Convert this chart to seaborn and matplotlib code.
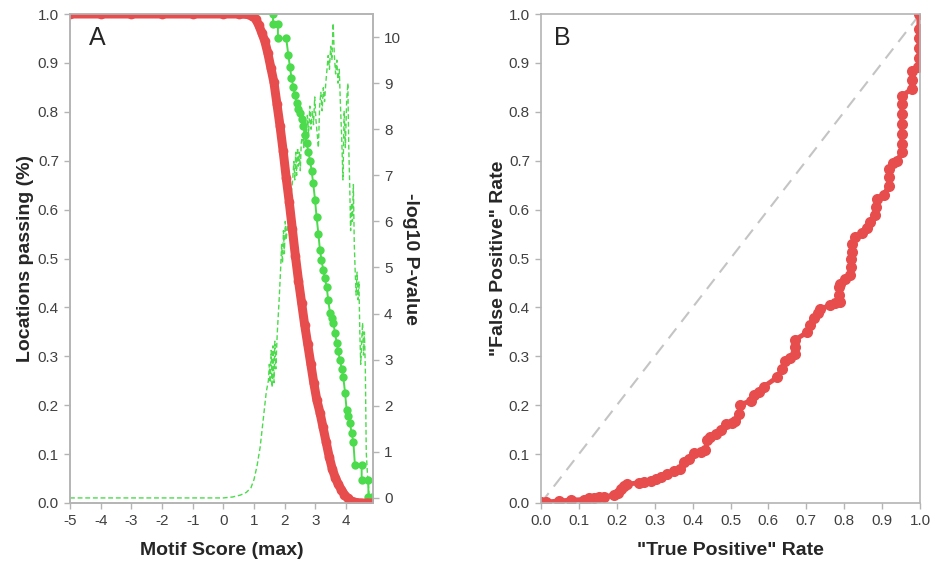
import matplotlib
matplotlib.use("Agg")
import matplotlib.pyplot as plt
import seaborn as sns
import numpy as np

sns.set_style("white")
plt.rcParams['font.family'] = ['Liberation Sans', 'DejaVu Sans']

# ---------------- Panel A data ----------------
# Locations passing (red)
score_red = [-5.0, -4.0, -3.0, -2.0, -1.0, 0.0, 0.5, 0.8, 0.95, 1.05, 1.15, 1.25, 1.35, 1.45, 1.55,
             1.65, 1.75, 1.85, 1.95, 2.05, 2.15, 2.25, 2.35, 2.45, 2.55, 2.65, 2.75, 2.85, 2.95, 3.05,
             3.15, 3.25, 3.35, 3.45, 3.55, 3.65, 3.75, 3.85, 3.95, 4.05, 4.15, 4.25, 4.35, 4.5, 4.7, 4.87]
passing_red = [1.0, 1.0, 1.0, 1.0, 1.0, 1.0, 1.0, 0.999, 0.996, 0.99, 0.978, 0.962, 0.945, 0.92, 0.89,
               0.86, 0.815, 0.77, 0.72, 0.665, 0.615, 0.56, 0.505, 0.455, 0.41, 0.365, 0.325, 0.285, 0.245, 0.21,
               0.185, 0.155, 0.125, 0.095, 0.07, 0.052, 0.038, 0.027, 0.017, 0.01, 0.005, 0.002, 0.001, 0.0, 0.0, 0.0]

# Locations passing (green, solid with markers)
score_green = [-5.0, 1.62, 1.62, 1.78, 1.78, 2.05, 2.12, 2.17, 2.22, 2.28, 2.33, 2.39, 2.45, 2.5, 2.55,
               2.61, 2.66, 2.72, 2.77, 2.83, 2.88, 2.93, 2.99, 3.04, 3.1, 3.15, 3.2, 3.26, 3.31, 3.37,
               3.42, 3.48, 3.53, 3.59, 3.64, 3.7, 3.75, 3.8, 3.86, 3.91, 3.97, 4.02, 4.08, 4.13, 4.18,
               4.24, 4.29, 4.51, 4.51, 4.73, 4.73, 4.84]
passing_green = [1.0, 1.0, 0.98, 0.98, 0.95, 0.95, 0.916, 0.892, 0.87, 0.851, 0.835, 0.818, 0.806, 0.797, 0.785,
                 0.77, 0.752, 0.736, 0.718, 0.70, 0.678, 0.654, 0.62, 0.585, 0.55, 0.517, 0.497, 0.476, 0.46, 0.442,
                 0.415, 0.388, 0.378, 0.368, 0.347, 0.327, 0.31, 0.292, 0.275, 0.258, 0.225, 0.19, 0.177, 0.164, 0.143,
                 0.125, 0.078, 0.078, 0.047, 0.047, 0.013, 0.013]

# -log10 P-value (green dashed, right axis)
score_p = [-5.0, 0.0, 0.3, 0.55, 0.75, 0.9, 1.0, 1.1, 1.2, 1.3, 1.4, 1.47, 1.5, 1.53, 1.56, 1.59, 1.62,
           1.65, 1.68, 1.71, 1.76, 1.82, 1.87, 1.9, 1.93, 1.96, 1.99, 2.02, 2.05, 2.09, 2.14, 2.2, 2.26,
           2.3, 2.33, 2.36, 2.39, 2.42, 2.45, 2.48, 2.51, 2.54, 2.58, 2.62, 2.66, 2.7, 2.74, 2.78, 2.82,
           2.86, 2.9, 2.94, 2.98, 3.02, 3.06, 3.1, 3.14, 3.18, 3.22, 3.26, 3.3, 3.34, 3.38, 3.42, 3.46,
           3.5, 3.54, 3.58, 3.62, 3.66, 3.7, 3.74, 3.78, 3.82, 3.86, 3.9, 3.94, 3.98, 4.02, 4.06, 4.09,
           4.12, 4.15, 4.18, 4.21, 4.24, 4.27, 4.3, 4.33, 4.36, 4.39, 4.42, 4.45, 4.48, 4.51, 4.54, 4.57,
           4.6, 4.63, 4.66, 4.7, 4.76, 4.87]
neglog_p = [0.0, 0.0, 0.02, 0.06, 0.12, 0.22, 0.4, 0.7, 1.1, 1.7, 2.3, 2.55, 2.9, 2.5, 3.2, 2.4, 3.3,
            2.5, 3.4, 2.8, 3.6, 4.3, 5.0, 5.5, 5.1, 5.8, 5.3, 6.0, 5.6, 5.9, 6.2, 6.5, 6.9,
            7.3, 6.9, 7.5, 7.0, 7.6, 7.2, 7.5, 7.1, 7.7, 7.9, 7.6, 8.2, 7.8, 8.3, 7.9, 8.5,
            8.0, 8.4, 8.1, 8.7, 8.2, 7.9, 7.6, 8.5, 8.8, 8.4, 8.9, 8.6, 9.0, 9.3, 9.6, 9.3,
            9.8, 9.5, 10.3, 9.6, 9.2, 9.5, 9.0, 9.3, 8.5, 7.8, 6.9, 8.4, 7.6, 8.6, 9.0, 7.6,
            6.8, 5.8, 6.4, 6.0, 6.8, 5.5, 4.9, 4.4, 4.9, 4.3, 4.7, 3.6, 2.9, 3.4, 3.8, 3.1,
            3.6, 2.8, 1.0, 0.5, 0.0, 0.0]

# ---------------- Panel B data ----------------
tp_rate = [0.0, 0.013, 0.048, 0.079, 0.114, 0.127, 0.14, 0.154, 0.167, 0.193,
           0.202, 0.211, 0.219, 0.228, 0.259, 0.272, 0.289, 0.303, 0.316, 0.333,
           0.351, 0.368, 0.377, 0.39, 0.404, 0.421, 0.434, 0.439, 0.447, 0.461,
           0.474, 0.487, 0.504, 0.513, 0.522, 0.526, 0.553, 0.561, 0.575, 0.588,
           0.623, 0.636, 0.645, 0.658, 0.671, 0.671, 0.671, 0.702, 0.711, 0.719, 0.732,
           0.737, 0.763, 0.776, 0.789, 0.787, 0.785, 0.789, 0.803, 0.816, 0.818, 0.818, 0.82, 0.82, 0.829,
           0.846, 0.86, 0.868, 0.882, 0.884, 0.886, 0.904, 0.917, 0.918, 0.919, 0.93, 0.939,
           0.952, 0.952, 0.952, 0.952, 0.952, 0.952, 0.952, 0.978, 0.979, 0.98, 0.996,
           0.997, 0.997, 0.997, 0.997, 0.997]
fp_rate = [0.002, 0.002, 0.004, 0.006, 0.007, 0.01, 0.011, 0.012, 0.012, 0.017,
           0.021, 0.028, 0.035, 0.039, 0.041, 0.043, 0.046, 0.05, 0.054, 0.059,
           0.065, 0.069, 0.083, 0.091, 0.102, 0.105, 0.109, 0.128, 0.135, 0.142,
           0.15, 0.161, 0.164, 0.168, 0.183, 0.201, 0.209, 0.22, 0.227, 0.238,
           0.257, 0.275, 0.29, 0.297, 0.305, 0.32, 0.334, 0.349, 0.364, 0.378, 0.389,
           0.397, 0.404, 0.408, 0.411, 0.426, 0.441, 0.448, 0.459, 0.467, 0.483, 0.498, 0.514, 0.53, 0.544,
           0.552, 0.563, 0.574, 0.589, 0.605, 0.622, 0.629, 0.648, 0.666, 0.684, 0.695, 0.699,
           0.717, 0.735, 0.755, 0.775, 0.795, 0.815, 0.832, 0.847, 0.865, 0.883, 0.891,
           0.91, 0.93, 0.95, 0.97, 1.0]
diag = [0.0, 1.0]

RED = '#e84d4d'
GREEN = '#4cdb4c'
SPINE = '#b4b4b4'
TICKTXT = '#404040'

fig = plt.figure(figsize=(9.34, 5.65), dpi=100)
axA = fig.add_axes([70/934, 62/565, 303/934, 489/565])
axR = axA.twinx()
axB = fig.add_axes([541/934, 62/565, 379/934, 489/565])

# Panel A drawing
sns.lineplot(x=score_p, y=neglog_p, ax=axR, color=GREEN, linewidth=1.0,
             linestyle=(0, (3.5, 2)), estimator=None, sort=False)
sns.lineplot(x=score_green, y=passing_green, ax=axA, color=GREEN, linewidth=1.4,
             marker='o', markersize=6, markeredgewidth=0, estimator=None, sort=False)
sns.lineplot(x=score_red, y=passing_red, ax=axA, color=RED, linewidth=6.5,
             marker='o', markersize=7, markeredgewidth=0, estimator=None, sort=False,
             solid_capstyle='round', solid_joinstyle='round')
axA.set_zorder(axR.get_zorder() + 1)
axA.patch.set_visible(False)

axA.set_xlim(-5, 4.88)
axA.set_ylim(0, 1.0)
axR.set_ylim(-0.11, 10.5)
axA.set_xticks(np.arange(-5, 5, 1))
axA.set_xticklabels([str(v) for v in range(-5, 5)])
axA.set_yticks(np.round(np.arange(0, 1.01, 0.1), 1))
axA.set_yticklabels([f"{v:.1f}" for v in np.arange(0, 1.01, 0.1)])
axR.set_yticks(range(0, 11))

axA.set_xlabel("Motif Score (max)", fontsize=14, fontweight='bold', labelpad=10)
axA.set_ylabel("Locations passing (%)", fontsize=14, fontweight='bold', labelpad=3)
axR.set_ylabel("-log10 P-value", fontsize=14, fontweight='bold', rotation=270, labelpad=13)
axA.text(0.09, 0.95, "A", transform=axA.transAxes, fontsize=18, ha='center', va='center')

# Panel B drawing
sns.lineplot(x=diag, y=diag, ax=axB, color='#c4c4c4', linewidth=1.5,
             linestyle=(0, (6, 4)), estimator=None, sort=False)
sns.lineplot(x=tp_rate, y=fp_rate, ax=axB, color=RED, linewidth=3.5,
             marker='o', markersize=8, markeredgewidth=0, estimator=None, sort=False)
axB.set_xlim(0, 1)
axB.set_ylim(0, 1)
ticksB = np.round(np.arange(0, 1.01, 0.1), 1)
axB.set_xticks(ticksB)
axB.set_xticklabels([f"{v:.1f}" for v in ticksB])
axB.set_yticks(ticksB)
axB.set_yticklabels([f"{v:.1f}" for v in ticksB])
axB.set_xlabel('"True Positive" Rate', fontsize=14, fontweight='bold', labelpad=10)
axB.set_ylabel('"False Positive" Rate', fontsize=14, fontweight='bold', labelpad=1)
axB.text(0.055, 0.95, "B", transform=axB.transAxes, fontsize=18, ha='center', va='center')

for ax in (axA, axR, axB):
    for s in ax.spines.values():
        s.set_color(SPINE)
        s.set_linewidth(1.2)
    ax.tick_params(axis='both', colors=SPINE, labelcolor=TICKTXT, labelsize=11,
                   length=4, width=1, direction='out', pad=4)
axA.tick_params(right=False, top=False)
axR.tick_params(axis='y', right=True)
axA.tick_params(axis='x', bottom=True)
axA.tick_params(axis='y', left=True)
axB.tick_params(bottom=True, left=True, top=False, right=False)

fig.savefig("out.png", dpi=100)
